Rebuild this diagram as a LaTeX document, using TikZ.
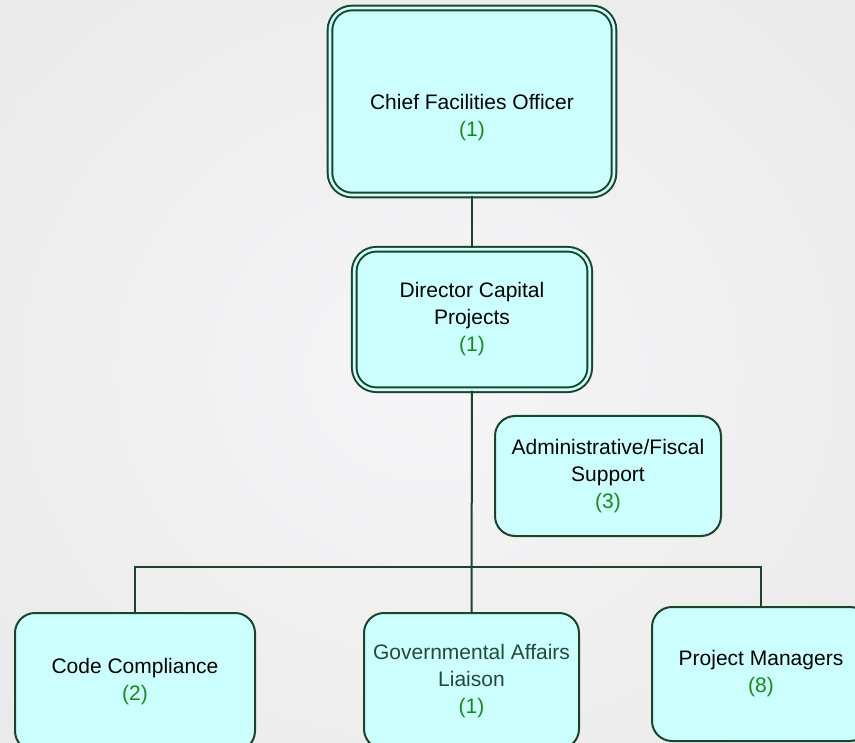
\documentclass[tikz,border=0pt]{standalone}
\usepackage{fontspec}
\setmainfont{Liberation Sans}
\definecolor{edge}{HTML}{1B4529}
\definecolor{boxfill}{HTML}{CCFFFF}
\definecolor{num}{HTML}{168C16}
\definecolor{govtext}{HTML}{234A35}
\definecolor{bgin}{HTML}{F6F6F8}
\definecolor{bgout}{HTML}{EAEAEA}
\newcommand{\cnt}[1]{\textcolor{num}{#1}}
\tikzset{
  unitbox/.style={rectangle, rounded corners=20pt, draw=edge, fill=boxfill,
    line width=2pt, inner sep=0pt, align=center,
    font=\fontsize{21}{27}\selectfont, text=black},
  dblbox/.style={unitbox, double=boxfill, double distance=2.6pt, rounded corners=22pt},
  link/.style={draw=edge, line width=2pt},
  plaintext/.style={inner sep=0pt, align=center, font=\fontsize{21}{27}\selectfont}
}
\begin{document}
\begin{tikzpicture}[x=1pt,y=-1pt]
\useasboundingbox (0,0) rectangle (855,743);
\clip (0,0) rectangle (855,743);
\shade[inner color=bgin, outer color=bgout] (-150,-150) rectangle (1005,893);
% boxes
\node[dblbox, minimum width=284pt, minimum height=187pt] (chief) at (472,101.5) {};
\node[plaintext] (chieftext) at (472,117.5) {Chief Facilities Officer\\\cnt{(1)}};
\node[dblbox, minimum width=235.5pt, minimum height=140.5pt] (dir) at (472,319.5)
  {Director Capital\\Projects\\\cnt{(1)}};
\node[unitbox, minimum width=226pt, minimum height=120pt] (admin) at (608,476)
  {Administrative/Fiscal\\Support\\\cnt{(3)}};
\node[unitbox, minimum width=240pt, minimum height=138pt] (code) at (135,682)
  {Code Compliance\\\cnt{(2)}};
\node[unitbox, minimum width=215pt, minimum height=136pt, text=govtext] (gov) at (471.5,681)
  {Governmental Affairs\\Liaison\\\cnt{(1)}};
\node[unitbox, minimum width=218pt, minimum height=134pt] (pm) at (761,674)
  {Project Managers\\\cnt{(8)}};
\coordinate (bus) at (472,566.5);
% connectors
\draw[link] (chief.south) -- (dir.north);
\draw[link] (dir.south) -- (gov.north);
\draw[link] (code.north) |- (bus) -| (pm.north);
\end{tikzpicture}
\end{document}
